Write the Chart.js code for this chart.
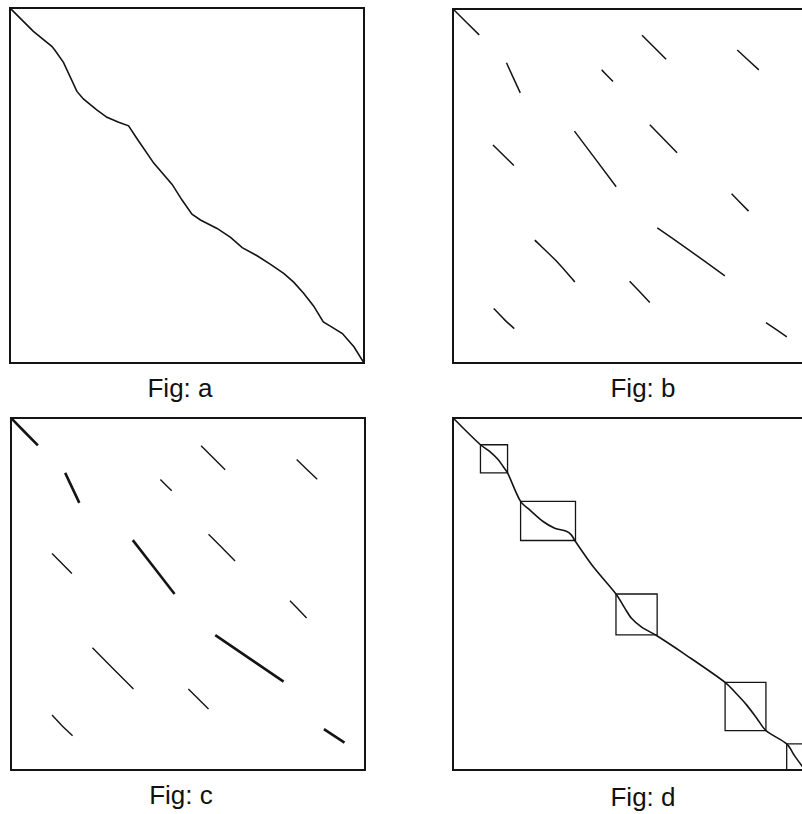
<!DOCTYPE html>
<html>
<head>
<meta charset="utf-8">
<title>Fig a-d</title>
<script src="https://cdn.jsdelivr.net/npm/chart.js@4.4.1/dist/chart.umd.min.js"></script>
<style>
    html, body {
        margin: 0;
        padding: 0;
        background: #ffffff;
        width: 802px;
        height: 814px;
        overflow: hidden;
        position: relative;
    }
    canvas {
        position: absolute;
    }
    .caption {
        position: absolute;
        width: 200px;
        text-align: center;
        font-family: "Liberation Sans", Arial, sans-serif;
        font-size: 26px;
        line-height: 26px;
        color: #111;
    }
</style>
</head>
<body>
<canvas id="figA"></canvas>
<canvas id="figB"></canvas>
<canvas id="figC"></canvas>
<canvas id="figD"></canvas>
<div class="caption" id="capA">Fig: a</div>
<div class="caption" id="capB">Fig: b</div>
<div class="caption" id="capC">Fig: c</div>
<div class="caption" id="capD">Fig: d</div>

<script>
// Values are in percent of the box (0 = left / top, 100 = right / bottom)

// Fig a - one continuous path
const aPathX = [0, 6.6, 11.8, 12.7, 15.1, 18.9, 20.8, 24.5, 27.4, 30.7, 33.5, 35.8, 40.6, 45.8, 48.6, 51.4, 53.8, 58.5, 62.3, 65.6, 69.8, 73.6, 77.4, 80.2, 83.0, 85.8, 88.5, 90.6, 93.9, 97.2, 100];
const aPathY = [0, 6.6, 10.8, 11.9, 15.3, 23.5, 25.7, 28.7, 30.8, 32.2, 33.2, 36.7, 43.7, 49.7, 54.1, 58.1, 59.7, 62.1, 64.6, 67.5, 69.8, 72.2, 74.8, 77.3, 80.4, 84.0, 88.4, 89.7, 91.7, 95.5, 100];

// Fig b - short segments
const bSegments = [
    [[0, 0], [7.4, 7.3]],
    [[15.1, 15.2], [19.0, 23.7]],
    [[53.4, 7.4], [60.2, 14.2]],
    [[80.3, 11.6], [86.4, 17.2]],
    [[42.0, 17.2], [45.2, 20.5]],
    [[11.3, 38.4], [17.2, 44.2]],
    [[34.3, 34.5], [46.1, 50.2]],
    [[55.6, 32.7], [63.3, 40.6]],
    [[78.7, 52.2], [83.5, 57.1]],
    [[23.1, 65.3], [29.0, 71.0], [34.4, 77.1]],
    [[57.7, 61.8], [65.7, 67.4], [76.8, 75.4]],
    [[49.9, 76.9], [55.6, 82.9]],
    [[11.5, 84.6], [14.4, 87.6], [17.3, 90.3]],
    [[88.4, 88.6], [94.3, 92.6]]
];

// Fig c - same segments, some drawn heavier
const cSegments = [
    [[0, 0], [7.6, 7.8]],
    [[15.3, 15.6], [19.3, 24.1]],
    [[53.7, 7.9], [60.5, 14.7]],
    [[80.7, 11.8], [86.5, 17.4]],
    [[42.2, 17.5], [45.4, 20.7]],
    [[11.6, 38.5], [17.2, 44.2]],
    [[34.4, 34.7], [46.2, 50.0]],
    [[55.8, 33.0], [63.3, 40.6]],
    [[78.8, 51.9], [83.5, 56.8]],
    [[23.0, 65.3], [34.6, 77.0]],
    [[57.7, 61.7], [77.0, 74.9]],
    [[50.1, 77.0], [55.8, 82.7]],
    [[11.6, 84.4], [14.5, 87.5], [17.4, 90.3]],
    [[88.4, 88.4], [94.2, 92.2]]
];
const cBold = [0, 1, 6, 10, 13];

// Fig d - path with boxed regions
const dPathX = [0, 7.8, 10.4, 12.8, 14.2, 15.5, 19.2, 21.8, 25.6, 28.9, 32.2, 33.6, 34.6, 39.8, 46.3, 48.8, 50.7, 53.6, 57.8, 65.4, 77.3, 80.6, 83.4, 86.3, 88.9, 94.8, 97.2, 100];
const dPathY = [0, 7.6, 9.5, 11.8, 13.7, 15.6, 23.7, 26.1, 29.4, 31.3, 32.2, 33.2, 34.8, 42.2, 50.0, 54.0, 56.9, 59.4, 61.8, 66.8, 75.1, 78.4, 81.5, 85.3, 88.8, 92.6, 96.2, 100];
const dBoxLeft = [7.8, 19.2, 46.3, 77.3, 94.8];
const dBoxRight = [15.5, 34.8, 58.0, 88.9, 100];
const dBoxTop = [7.6, 23.7, 50.0, 75.1, 92.6];
const dBoxBottom = [15.6, 34.8, 61.6, 88.8, 100];

// Box placement on the page: [left, top, width, height]
const PAD = 4;
const boxes = {
    figA: [10, 8, 354, 355],
    figB: [453, 9, 354, 354],
    figC: [11, 418, 354, 352],
    figD: [453, 418, 352, 352]
};
const captions = {
    capA: [180, 397],
    capB: [643, 397],
    capC: [181, 804],
    capD: [643, 806]
};

const INK = '#141414';

function frameAxis(position, reverse) {
    return {
        type: 'linear',
        position: position,
        min: 0,
        max: 100,
        reverse: reverse,
        ticks: { display: false },
        grid: { display: false, drawTicks: false },
        border: { display: true, color: INK, width: 2 }
    };
}

function lineSet(points, width, tension) {
    return {
        data: points.map(p => ({ x: p[0], y: p[1] })),
        showLine: true,
        borderColor: INK,
        borderWidth: width,
        pointRadius: 0,
        fill: false,
        tension: tension || 0
    };
}

function makePanel(id, datasets) {
    const canvas = document.getElementById(id);
    const b = boxes[id];
    canvas.width = b[2] + PAD * 2;
    canvas.height = b[3] + PAD * 2;
    canvas.style.left = (b[0] - PAD) + 'px';
    canvas.style.top = (b[1] - PAD) + 'px';

    return new Chart(canvas.getContext('2d'), {
        type: 'scatter',
        data: { datasets: datasets },
        options: {
            responsive: false,
            animation: false,
            devicePixelRatio: 1,
            layout: { padding: PAD },
            plugins: {
                legend: { display: false },
                tooltip: { enabled: false }
            },
            scales: {
                x: frameAxis('bottom', false),
                y: frameAxis('left', true),
                x2: frameAxis('top', false),
                y2: frameAxis('right', true)
            }
        }
    });
}

// Fig a
makePanel('figA', [lineSet(aPathX.map((x, i) => [x, aPathY[i]]), 1.6)]);

// Fig b
makePanel('figB', bSegments.map(seg => lineSet(seg, 1.5, 0.3)));

// Fig c
makePanel('figC', cSegments.map((seg, i) => lineSet(seg, cBold.includes(i) ? 2.6 : 1.4, 0.3)));

// Fig d
const dSets = [lineSet(dPathX.map((x, i) => [x, dPathY[i]]), 1.6, 0.3)];
dBoxLeft.forEach((l, i) => {
    const r = dBoxRight[i], t = dBoxTop[i], btm = dBoxBottom[i];
    dSets.push(lineSet([[l, t], [r, t], [r, btm], [l, btm], [l, t]], 1.3));
});
makePanel('figD', dSets);

// Captions
Object.keys(captions).forEach(id => {
    const el = document.getElementById(id);
    const c = captions[id];
    el.style.left = (c[0] - 100) + 'px';
    el.style.top = (c[1] - 22) + 'px';
});
</script>
</body>
</html>
